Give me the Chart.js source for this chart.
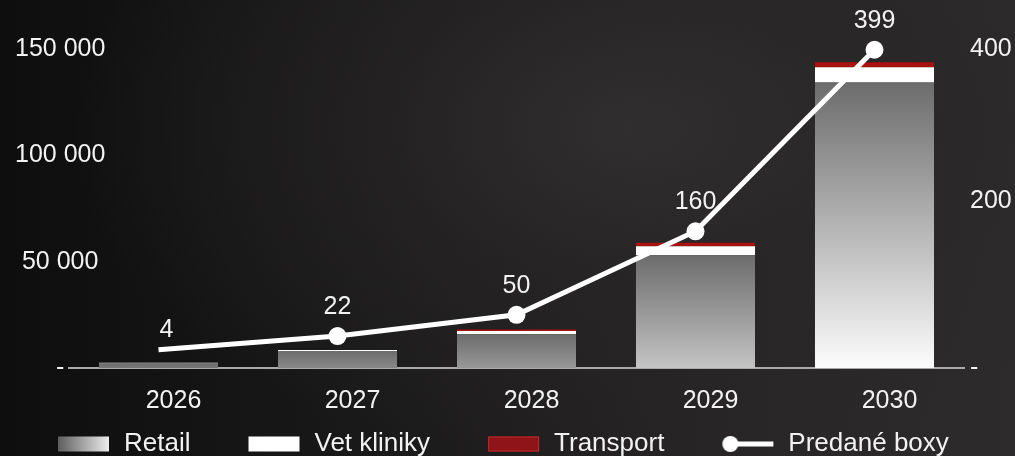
<!DOCTYPE html>
<html>
<head>
<meta charset="utf-8">
<script src="https://cdn.jsdelivr.net/npm/chart.js@4.4.1/dist/chart.umd.min.js"></script>
<style>
html, body { margin: 0; padding: 0; }
body {
    width: 1015px; height: 456px; overflow: hidden;
    background:
        radial-gradient(ellipse 55% 75% at 62% 28%, rgba(50,48,48,0.85) 0%, rgba(40,38,38,0.6) 45%, rgba(30,29,29,0) 100%),
        linear-gradient(90deg, #0e0e0e 0%, #181717 30%, #272525 70%, #2d2b2b 100%);
}
#wrap { position: relative; width: 1015px; height: 456px; }
</style>
</head>
<body>
<div id="wrap"><canvas id="chart"></canvas></div>
<script>
// values
var years = ['2026', '2027', '2028', '2029', '2030'];
var retail = [2100, 8000, 15900, 53000, 134300];
var vetKliniky = [350, 500, 1550, 4250, 7100];
var transport = [0, 0, 600, 1650, 2350];
var predaneBoxy = [4, 22, 50, 160, 399];
var leftTicks = [0, 50000, 100000, 150000];
var rightTicks = [200, 400];

var FONT = '"Liberation Sans", Arial, sans-serif';
var TEXT = '#f2f2f2';

function fmt(v) {
    if (v <= 0) return '-';
    return String(v).replace(/\B(?=(\d{3})+(?!\d))/g, ' ');
}

// grey bars get lighter towards the bottom, more so for tall bars
function retailFill(c) {
    var chart = c.chart, ys = chart.scales.y;
    if (!ys || !chart.chartArea || !c.parsed) return '#8c8c8c';
    var top = ys.getPixelForValue(c.parsed.y), base = ys.getPixelForValue(0);
    var h = Math.max(1, base - top);
    var t = Math.sqrt(Math.min(1, h / 285));
    var lo = Math.round(100 + 152 * t);
    var g = chart.ctx.createLinearGradient(0, top, 0, base);
    g.addColorStop(0, 'rgb(108,108,108)');
    g.addColorStop(1, 'rgb(' + lo + ',' + lo + ',' + lo + ')');
    return g;
}

// legend swatches as small canvases (same width for all, swatch on the right)
var ICON_W = 107;
function legendIcon(kind) {
    var c = document.createElement('canvas');
    c.width = ICON_W; c.height = 20;
    var g = c.getContext('2d');
    var x0 = ICON_W - 53, w = 51, top = 2.5, h = 15;
    if (kind === 'retail') {
        var gr = g.createLinearGradient(x0, 0, x0 + w, 0);
        gr.addColorStop(0, '#5e5e5e');
        gr.addColorStop(1, '#ececec');
        g.fillStyle = gr;
        g.fillRect(x0, top, w, h);
    } else if (kind === 'vet') {
        g.fillStyle = '#ffffff';
        g.fillRect(x0, top, w, h);
    } else if (kind === 'transport') {
        g.fillStyle = '#8e1419';
        g.fillRect(x0, top, w, h);
        g.strokeStyle = '#c42a2a';
        g.lineWidth = 1;
        g.strokeRect(x0 + 0.5, top + 0.5, w - 1, h - 1);
    } else {
        g.strokeStyle = '#ffffff';
        g.lineWidth = 5;
        g.beginPath(); g.moveTo(x0 + 8, 10); g.lineTo(x0 + w, 10); g.stroke();
        g.fillStyle = '#ffffff';
        g.beginPath(); g.arc(x0 + 8, 10, 8, 0, Math.PI * 2); g.fill();
    }
    return c;
}
var icons = [legendIcon('retail'), legendIcon('vet'), legendIcon('transport'), legendIcon('line')];

// numbers above the line
var lineLabels = {
    id: 'lineLabels',
    afterDatasetsDraw: function (chart) {
        var meta = chart.getDatasetMeta(3);
        var ctx = chart.ctx;
        ctx.save();
        ctx.font = '25px ' + FONT;
        ctx.fillStyle = TEXT;
        ctx.textAlign = 'center';
        ctx.textBaseline = 'middle';
        meta.data.forEach(function (pt, i) {
            var dx = i === 0 ? 8 : 0, dy = i === 0 ? 20 : 29;
            ctx.fillText(String(predaneBoxy[i]), pt.x + dx, pt.y - dy);
        });
        ctx.restore();
    }
};

Chart.defaults.font.family = FONT;
Chart.defaults.font.size = 25;
Chart.defaults.color = TEXT;

var chart = new Chart(document.getElementById('chart'), {
    data: {
        labels: years,
        datasets: [
            { type: 'bar', label: 'Retail', data: retail, backgroundColor: retailFill, yAxisID: 'y', stack: 's', order: 1 },
            { type: 'bar', label: 'Vet kliniky', data: vetKliniky, backgroundColor: '#ffffff', yAxisID: 'y', stack: 's', order: 1 },
            { type: 'bar', label: 'Transport', data: transport, backgroundColor: '#a8110e', yAxisID: 'y', stack: 's', order: 1 },
            {
                type: 'line', label: 'Predané boxy', data: predaneBoxy, yAxisID: 'y1', order: 0,
                borderColor: '#ffffff', borderWidth: 5, tension: 0, clip: false,
                pointRadius: function (c) { return c.dataIndex === 0 ? 0 : 9; },
                pointBackgroundColor: '#ffffff', pointBorderWidth: 0
            }
        ]
    },
    options: {
        responsive: true,
        maintainAspectRatio: false,
        animation: false,
        events: [],
        layout: { padding: { left: 0, right: 0, top: 49, bottom: -11 } },
        datasets: { bar: { barPercentage: 0.665, categoryPercentage: 1, borderWidth: 0 } },
        scales: {
            x: {
                stacked: true,
                grid: { display: false, drawTicks: false },
                border: { display: true, color: '#a9a9a9', width: 2 },
                ticks: { padding: 18, labelOffset: 15, color: TEXT },
                afterFit: function (s) { s.height = 59; }
            },
            y: {
                position: 'left', stacked: true, min: 0, max: 150000,
                afterBuildTicks: function (s) { s.ticks = leftTicks.map(function (v) { return { value: v }; }); },
                grid: { display: false, drawTicks: false },
                border: { display: false },
                // mirror so the labels are not clipped to the narrow axis box
                ticks: { mirror: true, crossAlign: 'center', padding: -54, color: TEXT, callback: function (v) { return fmt(v); } },
                afterFit: function (s) { s.width = 69; }
            },
            y1: {
                position: 'right', min: -20, max: 400,
                afterBuildTicks: function (s) {
                    s.ticks = [{ value: -20 }].concat(rightTicks.map(function (v) { return { value: v }; }));
                },
                grid: { display: false, drawTicks: false },
                border: { display: false },
                ticks: { padding: 6, color: TEXT, callback: function (v) { return v < 0 ? '-' : String(v); } },
                afterFit: function (s) { s.width = 51; }
            }
        },
        plugins: {
            tooltip: { enabled: false },
            legend: {
                position: 'bottom',
                align: 'start',
                labels: {
                    usePointStyle: true,
                    pointStyleWidth: ICON_W,
                    padding: 4,
                    color: TEXT,
                    font: { size: 26 },
                    sort: function (a, b) { return a.datasetIndex - b.datasetIndex; },
                    generateLabels: function (ch) {
                        var items = Chart.defaults.plugins.legend.labels.generateLabels(ch);
                        items.forEach(function (it) {
                            it.pointStyle = icons[it.datasetIndex];
                            it.lineWidth = 0;
                        });
                        return items;
                    }
                }
            }
        }
    },
    plugins: [lineLabels]
});
</script>
</body>
</html>
